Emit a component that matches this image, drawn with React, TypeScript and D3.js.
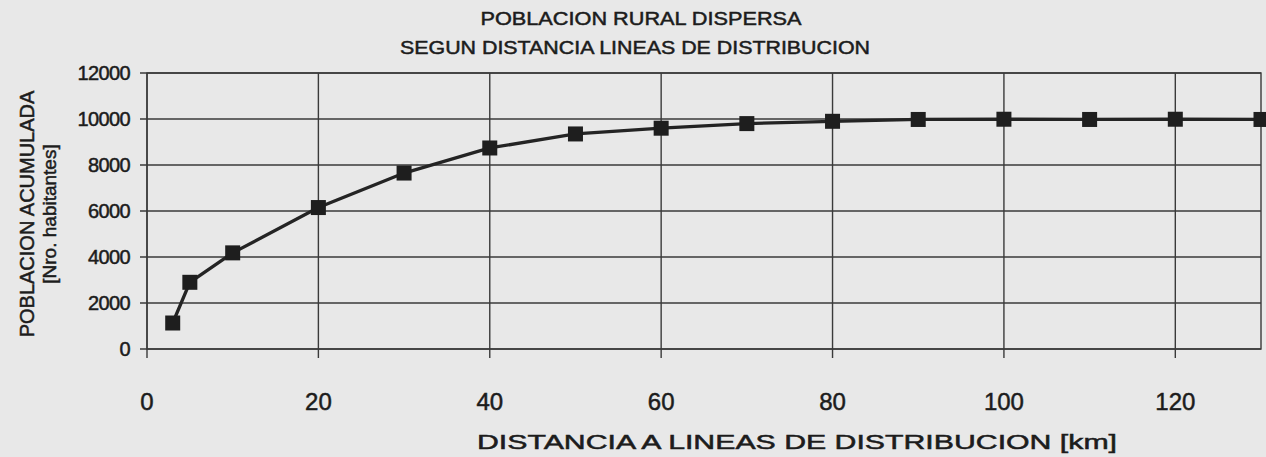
import React, { useRef, useEffect } from 'react';
import * as d3 from 'd3';

const distances = [3, 5, 10, 20, 30, 40, 50, 60, 70, 80, 90, 100, 110, 120, 130];
const population = [1130, 2900, 4180, 6150, 7650, 8740, 9350, 9600, 9800, 9900, 9980, 9990, 9980, 9990, 9980];
const xTicks = [0, 20, 40, 60, 80, 100, 120];
const yTicks = [0, 2000, 4000, 6000, 8000, 10000, 12000];

const titleLines = ['POBLACION RURAL DISPERSA', 'SEGUN DISTANCIA LINEAS DE DISTRIBUCION'];
const xTitle = 'DISTANCIA A LINEAS DE DISTRIBUCION [km]';
const yTitle = ['POBLACION ACUMULADA', '[Nro. habitantes]'];

const FONT = '"Liberation Sans", Arial, sans-serif';
const INK = '#1c1c1c';
const GRID = '#3a3a3a';

export default function App() {
  const ref = useRef<SVGSVGElement | null>(null);

  useEffect(() => {
    document.body.style.margin = '0';
    const svg = d3.select(ref.current);
    svg.selectAll('*').remove();

    const W = 1266;
    const H = 457;
    const margin = { top: 73, right: 5, bottom: 108, left: 147 };
    const width = W - margin.left - margin.right;
    const height = H - margin.top - margin.bottom;

    svg.attr('width', W).attr('height', H);

    // scanned paper
    svg.append('rect').attr('width', W).attr('height', H).attr('fill', '#e8e8e8');

    const x = d3.scaleLinear().domain([0, 130]).range([0, width]);
    const y = d3.scaleLinear().domain([0, 12000]).range([height, 0]);

    const chart = svg.append('g').attr('transform', `translate(${margin.left},${margin.top})`);

    // horizontal grid (ticks stick out 7px to the left)
    chart.append('g').selectAll('line')
      .data(yTicks)
      .join('line')
      .attr('x1', -7)
      .attr('x2', width)
      .attr('y1', d => y(d))
      .attr('y2', d => y(d))
      .attr('stroke', GRID)
      .attr('stroke-width', 1.4);

    // vertical grid (ticks stick out 9px below)
    chart.append('g').selectAll('line')
      .data(xTicks)
      .join('line')
      .attr('x1', d => x(d))
      .attr('x2', d => x(d))
      .attr('y1', 0)
      .attr('y2', height + 9)
      .attr('stroke', GRID)
      .attr('stroke-width', 1.4);

    // plot border
    chart.append('rect')
      .attr('width', width)
      .attr('height', height)
      .attr('fill', 'none')
      .attr('stroke', GRID)
      .attr('stroke-width', 1.4);

    // tick labels
    chart.append('g').selectAll('text')
      .data(yTicks)
      .join('text')
      .attr('x', -17)
      .attr('y', d => y(d))
      .attr('dy', '0.36em')
      .attr('text-anchor', 'end')
      .attr('font-family', FONT)
      .attr('font-size', 20)
      .attr('fill', INK)
      .attr('stroke', INK)
      .attr('stroke-width', 0.5)
      .style('letter-spacing', '-0.6px')
      .text(d => String(d));

    chart.append('g').selectAll('text')
      .data(xTicks)
      .join('text')
      .attr('x', d => x(d))
      .attr('y', height + 52)
      .attr('dy', '0.36em')
      .attr('text-anchor', 'middle')
      .attr('font-family', FONT)
      .attr('font-size', 24)
      .attr('fill', INK)
      .attr('stroke', INK)
      .attr('stroke-width', 0.5)
      .text(d => String(d));

    // line + square markers
    const pts = distances.map((d, i) => [d, population[i]] as [number, number]);
    chart.append('path')
      .datum(pts)
      .attr('fill', 'none')
      .attr('stroke', '#242424')
      .attr('stroke-width', 3.3)
      .attr('d', d3.line<[number, number]>().x(d => x(d[0])).y(d => y(d[1])));

    const ms = 15;
    chart.append('g').selectAll('rect')
      .data(pts)
      .join('rect')
      .attr('x', d => x(d[0]) - ms / 2)
      .attr('y', d => y(d[1]) - ms / 2)
      .attr('width', ms)
      .attr('height', ms)
      .attr('fill', '#1e1e1e');

    // chart title
    const titleCenters = [641, 635];
    const titleWidths = [321, 470];
    svg.append('g').selectAll('text')
      .data(titleLines)
      .join('text')
      .attr('x', (_, i) => titleCenters[i])
      .attr('y', (_, i) => 18 + i * 29)
      .attr('dy', '0.36em')
      .attr('text-anchor', 'middle')
      .attr('font-family', FONT)
      .attr('font-size', 19)
      .attr('fill', INK)
      .attr('stroke', INK)
      .attr('stroke-width', 0.5)
      .attr('textLength', (_, i) => titleWidths[i])
      .attr('lengthAdjust', 'spacingAndGlyphs')
      .text(d => d);

    // x axis title
    svg.append('text')
      .attr('x', 797)
      .attr('y', 442)
      .attr('dy', '0.36em')
      .attr('text-anchor', 'middle')
      .attr('font-family', FONT)
      .attr('font-size', 20)
      .attr('fill', INK)
      .attr('stroke', INK)
      .attr('stroke-width', 0.5)
      .attr('textLength', 640)
      .attr('lengthAdjust', 'spacingAndGlyphs')
      .text(xTitle);

    // y axis title
    svg.append('g').selectAll('text')
      .data(yTitle)
      .join('text')
      .attr('transform', (_, i) => `translate(${27 + i * 22},214) rotate(-90)`)
      .attr('dy', '0.36em')
      .attr('text-anchor', 'middle')
      .attr('font-family', FONT)
      .attr('font-size', (_, i) => (i === 0 ? 20 : 19))
      .attr('fill', INK)
      .attr('stroke', INK)
      .attr('stroke-width', 0.5)
      .text(d => d);
  }, []);

  return <svg ref={ref} style={{ display: 'block' }} />;
}
